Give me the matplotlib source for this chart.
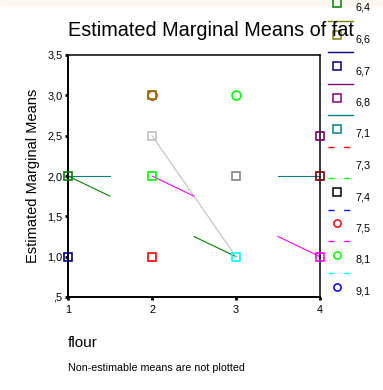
import matplotlib

matplotlib.use("Agg")
import matplotlib.pyplot as plt
from matplotlib.lines import Line2D
from matplotlib.patches import Rectangle

plt.rcParams["font.family"] = ["Liberation Sans", "DejaVu Sans"]

W, H = 383, 390

flour = [1, 2, 3, 4]
y_ticks = [0.5, 1.0, 1.5, 2.0, 2.5, 3.0, 3.5]
y_tick_labels = [",5", "1,0", "1,5", "2,0", "2,5", "3,0", "3,5"]

# estimated means that could be plotted
point_x = [1, 1, 2, 2, 2, 2, 2, 3, 3, 3, 4, 4, 4]
point_y = [2.0, 1.0, 3.0, 3.0, 2.5, 2.0, 1.0, 3.0, 2.0, 1.0, 2.5, 2.0, 1.0]
point_color = ["#008000", "#000080", "#ff0000", "#808000", "#c0c0c0", "#00ff00",
               "#ff0000", "#00ff00", "#808080", "#00ffff", "#800080", "#800000",
               "#ff00ff"]
point_marker = ["s", "s", "o", "s", "s", "s", "s", "o", "s", "s", "s", "s", "s"]

# line pieces between cells (SPSS stops halfway where a mean is missing)
seg_x0 = [1.0, 3.5, 1.0, 2.5, 2.0, 2.0, 3.5]
seg_y0 = [2.0, 2.0, 2.0, 1.25, 2.5, 2.0, 1.25]
seg_x1 = [1.5, 4.0, 1.5, 3.0, 3.0, 2.5, 4.0]
seg_y1 = [2.0, 2.0, 1.75, 1.0, 1.0, 1.75, 1.0]
seg_color = ["#008080", "#008080", "#008000", "#008000", "#c0c0c0", "#ff00ff", "#ff00ff"]

# legend (sugar levels) as SPSS drew it
legend_labels = ["6,4", "6,6", "6,7", "6,8", "7,1", "7,3", "7,4", "7,5", "8,1", "9,1"]
legend_line_color = [None, "#808000", "#000080", "#800080", "#008080",
                     "#ff0000", "#00ff00", "#0000ff", "#ff00ff", "#00ffff"]
legend_line_dashed = [False, False, False, False, False, True, True, True, True, True]
legend_marker_color = ["#008000", "#808000", "#000080", "#800080", "#008080",
                       None, "#000000", "#ff0000", "#00ff00", "#0000ff"]
legend_marker = ["s", "s", "s", "s", "s", None, "s", "o", "o", "o"]


def fx(px):
    return px / W


def fy(py):
    return 1 - py / H


fig = plt.figure(figsize=(W / 100, H / 100), dpi=100)
fig.patches.append(Rectangle((0, fy(6)), 1, 1 - fy(6), transform=fig.transFigure,
                             color="#fcf7f0", zorder=0))

ax = fig.add_axes([fx(68), fy(297), fx(320) - fx(68), fy(55) - fy(297)])
ax.set_xlim(1, 4)
ax.set_ylim(0.5, 3.5)

for x0, y0, x1, y1, c in zip(seg_x0, seg_y0, seg_x1, seg_y1, seg_color):
    ax.plot([x0, x1], [y0, y1], color=c, linewidth=0.8, clip_on=False, zorder=2)

for x, y, c, m in zip(point_x, point_y, point_color, point_marker):
    ax.plot(x, y, linestyle="none", marker=m, markersize=5.2 if m == "s" else 6.4,
            markerfacecolor="none", markeredgecolor=c, markeredgewidth=1.2,
            clip_on=False, zorder=3)

ax.set_xticks(flour)
ax.set_xticklabels([str(f) for f in flour])
ax.set_yticks(y_ticks)
ax.set_yticklabels(y_tick_labels)
ax.tick_params(direction="out", length=2, width=2, labelsize=7.8, color="black")
ax.tick_params(axis="x", pad=4)
ax.tick_params(axis="y", pad=2)
for side in ["left", "bottom"]:
    ax.spines[side].set_linewidth(1.4)
for side in ["top", "right"]:
    ax.spines[side].set_linewidth(1.1)
ax.set_ylabel("Estimated Marginal Means", fontsize=10.5)
ax.yaxis.set_label_coords((40 - 68) / 252, 0.5)

fig.text(fx(211), fy(31), "Estimated Marginal Means of fat", fontsize=14.3,
         ha="center", va="center")
fig.text(fx(68), fy(343), "flour", fontsize=11, ha="left", va="center")
fig.text(fx(68), fy(368), "Non-estimable means are not plotted", fontsize=7.7,
         ha="left", va="center")

for i, lab in enumerate(legend_labels):
    ly = 8 + i * 31.5
    fig.text(fx(356), fy(ly), lab, fontsize=7.8, ha="left", va="center")
    if legend_line_color[i] is not None:
        ln = Line2D([fx(328), fx(353)], [fy(ly - 19), fy(ly - 19)],
                    transform=fig.transFigure, color=legend_line_color[i], linewidth=1.0)
        if legend_line_dashed[i]:
            ln.set_dashes((4.3, 7.0))
        fig.add_artist(ln)
    if legend_marker[i] is not None:
        mk = Line2D([fx(337)], [fy(ly - 5)], transform=fig.transFigure,
                    linestyle="none", marker=legend_marker[i], markersize=5.2,
                    markerfacecolor="none", markeredgecolor=legend_marker_color[i],
                    markeredgewidth=1.1)
        fig.add_artist(mk)

fig.savefig("out.png", dpi=100)
